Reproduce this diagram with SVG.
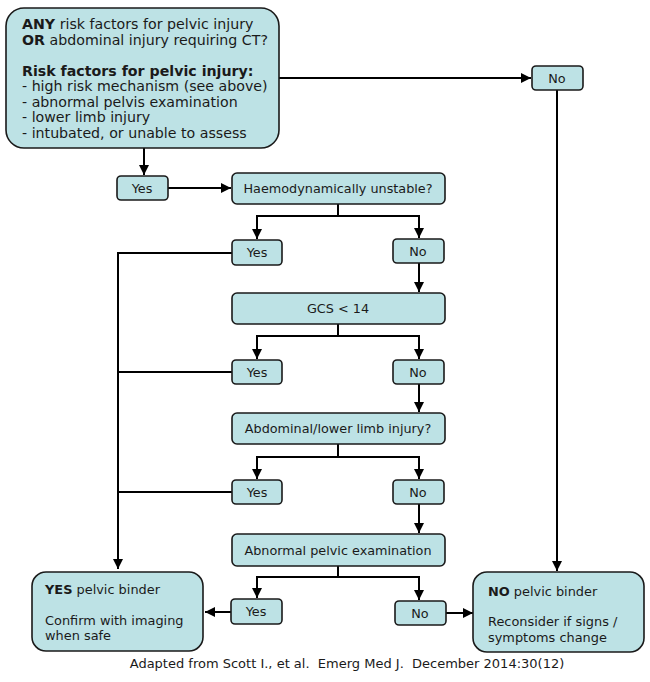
<svg xmlns="http://www.w3.org/2000/svg" width="650" height="682" viewBox="0 0 650 682">
<style>
.box{fill:#bde2e5;stroke:#1a1a1a;stroke-width:1.6}
text{font-family:"DejaVu Sans",Verdana,sans-serif;font-size:12.8px;fill:#1a1a1a}
.c{text-anchor:middle}
.big{font-size:14.2px}
.end{font-size:12.9px}
.ln{fill:none;stroke:#000;stroke-width:2}
.cap{font-size:13px;white-space:pre}
</style>
<defs>
<marker id="a" viewBox="0 0 10 10" refX="10" refY="5" markerWidth="5" markerHeight="5" orient="auto" markerUnits="strokeWidth">
<path d="M0,0 L10,5 L0,10 z" fill="#000"/>
</marker>
</defs>
<rect width="650" height="682" fill="#fff"/>
<g id="connectors">
<path class="ln" d="M279,78 H531" marker-end="url(#a)"/>
<path class="ln" d="M557,90 V571" marker-end="url(#a)"/>
<path class="ln" d="M144,148 V175" marker-end="url(#a)"/>
<path class="ln" d="M168,188 H231" marker-end="url(#a)"/>
<path class="ln" d="M338,204 V216 H257 V239" marker-end="url(#a)"/>
<path class="ln" d="M338,216 H419 V238" marker-end="url(#a)"/>
<path class="ln" d="M232,253 H118 V569" marker-end="url(#a)"/>
<path class="ln" d="M419,263 V292" marker-end="url(#a)"/>
<path class="ln" d="M338,324 V336 H257 V359" marker-end="url(#a)"/>
<path class="ln" d="M338,336 H419 V359" marker-end="url(#a)"/>
<path class="ln" d="M232,372 H118"/>
<path class="ln" d="M419,384 V412" marker-end="url(#a)"/>
<path class="ln" d="M338,444 V457 H257 V479" marker-end="url(#a)"/>
<path class="ln" d="M338,457 H419 V479" marker-end="url(#a)"/>
<path class="ln" d="M232,492 H118"/>
<path class="ln" d="M419,504 V533" marker-end="url(#a)"/>
<path class="ln" d="M338,566 V577 H257 V598" marker-end="url(#a)"/>
<path class="ln" d="M338,577 H419 V600" marker-end="url(#a)"/>
<path class="ln" d="M231,612 H205" marker-end="url(#a)"/>
<path class="ln" d="M446,613 H473" marker-end="url(#a)"/>
</g>
<g id="start">
<rect class="box" x="6" y="8" width="273" height="140" rx="18"/>
<text class="big" x="22" y="29"><tspan font-weight="bold">ANY</tspan> risk factors for pelvic injury</text>
<text class="big" x="22" y="45"><tspan font-weight="bold">OR</tspan> abdominal injury requiring CT?</text>
<text class="big" x="22" y="76" font-weight="bold">Risk factors for pelvic injury:</text>
<text class="big" x="22" y="91">- high risk mechanism (see above)</text>
<text class="big" x="22" y="107">- abnormal pelvis examination</text>
<text class="big" x="22" y="122">- lower limb injury</text>
<text class="big" x="22" y="138">- intubated, or unable to assess</text>
</g>
<g id="no0"><rect class="box" x="532" y="66" width="51" height="24" rx="4"/><text class="c" x="557" y="83">No</text></g>
<g id="yes0"><rect class="box" x="117" y="176" width="51" height="24" rx="4"/><text class="c" x="142" y="193">Yes</text></g>
<g id="haemo"><rect class="box" x="232" y="173" width="213" height="31" rx="5"/><text class="c" x="338" y="193">Haemodynamically unstable?</text></g>
<g id="yes1"><rect class="box" x="232" y="240" width="50" height="25" rx="4"/><text class="c" x="257" y="257">Yes</text></g>
<g id="no1"><rect class="box" x="393" y="239" width="51" height="24" rx="4"/><text class="c" x="418" y="256">No</text></g>
<g id="gcs"><rect class="box" x="232" y="293" width="213" height="31" rx="5"/><text class="c" x="338" y="313">GCS &lt; 14</text></g>
<g id="yes2"><rect class="box" x="232" y="360" width="50" height="24" rx="4"/><text class="c" x="257" y="377">Yes</text></g>
<g id="no2"><rect class="box" x="393" y="360" width="51" height="24" rx="4"/><text class="c" x="418" y="377">No</text></g>
<g id="abdo"><rect class="box" x="232" y="413" width="213" height="31" rx="5"/><text class="c" x="338" y="433">Abdominal/lower limb injury?</text></g>
<g id="yes3"><rect class="box" x="232" y="480" width="50" height="24" rx="4"/><text class="c" x="257" y="497">Yes</text></g>
<g id="no3"><rect class="box" x="393" y="480" width="51" height="24" rx="4"/><text class="c" x="418" y="497">No</text></g>
<g id="pelvic"><rect class="box" x="232" y="534" width="213" height="32" rx="5"/><text class="c" x="338" y="555">Abnormal pelvic examination</text></g>
<g id="yes4"><rect class="box" x="231" y="599" width="51" height="25" rx="4"/><text class="c" x="256" y="616">Yes</text></g>
<g id="no4"><rect class="box" x="395" y="601" width="51" height="24" rx="4"/><text class="c" x="420" y="618">No</text></g>
<g id="yesBinder">
<rect class="box" x="32" y="572" width="171" height="79" rx="14"/>
<text class="end" x="45" y="594"><tspan font-weight="bold">YES</tspan> pelvic binder</text>
<text class="end" x="45" y="625">Confirm with imaging</text>
<text class="end" x="45" y="640">when safe</text>
</g>
<g id="noBinder">
<rect class="box" x="473" y="572" width="171" height="80" rx="14"/>
<text class="end" x="488" y="596"><tspan font-weight="bold">NO</tspan> pelvic binder</text>
<text class="end" x="488" y="626">Reconsider if signs /</text>
<text class="end" x="488" y="642">symptoms change</text>
</g>
<text class="c cap" x="347" y="668" xml:space="preserve">Adapted from Scott I., et al.  Emerg Med J.  December 2014:30(12)</text>
</svg>
